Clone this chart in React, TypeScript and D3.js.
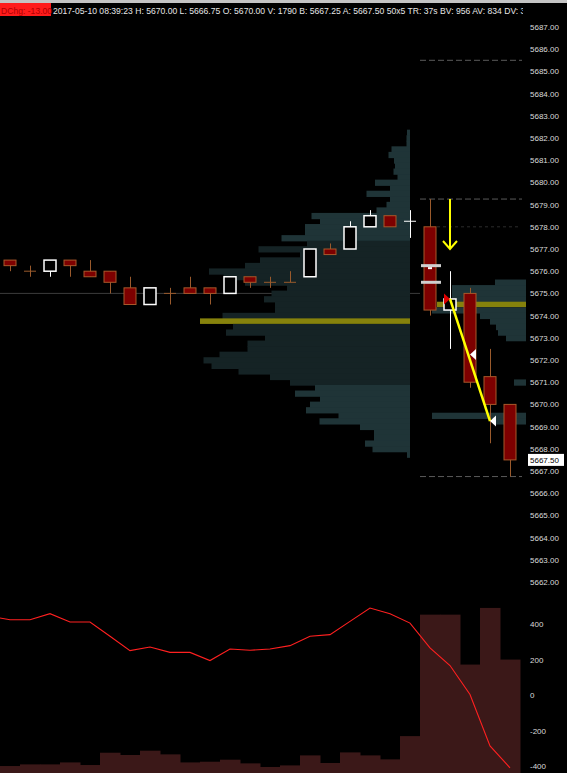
import React, { useEffect, useRef } from 'react';
import * as d3 from 'd3';

const W = 567;
const H = 773;

// candles, one per bar (index 0 = left-most)
const opens = [5676.5, 5676.0, 5676.0, 5676.5, 5676.0, 5676.0, 5675.25, 5674.5, 5675.0, 5675.25, 5675.25, 5675.0, 5675.75, 5675.5, 5675.5, 5675.75, 5677.0, 5677.0, 5678.0, 5678.5, 5678.25, 5678.0, 5674.25, 5675.0, 5671.25, 5670.0];
const highs = [5676.5, 5676.25, 5676.5, 5676.5, 5676.5, 5676.0, 5675.75, 5675.25, 5675.25, 5675.75, 5675.25, 5675.75, 5675.75, 5675.75, 5676.0, 5677.0, 5677.25, 5678.25, 5678.75, 5678.5, 5678.75, 5679.25, 5676.0, 5675.25, 5672.5, 5670.0];
const lows = [5676.0, 5675.75, 5675.75, 5675.75, 5675.75, 5675.0, 5674.5, 5674.5, 5674.5, 5675.0, 5674.5, 5675.0, 5675.25, 5675.25, 5675.5, 5675.75, 5676.75, 5677.0, 5678.0, 5678.0, 5677.5, 5674.0, 5672.5, 5670.75, 5668.25, 5666.75];
const closes = [5676.25, 5676.0, 5676.5, 5676.25, 5675.75, 5675.5, 5674.5, 5675.25, 5675.0, 5675.0, 5675.0, 5675.75, 5675.5, 5675.5, 5675.5, 5677.0, 5676.75, 5678.0, 5678.5, 5678.0, 5678.25, 5674.25, 5674.75, 5671.0, 5670.0, 5667.5];

// lower pane
const volumes = [110, 136, 136, 167, 126, 320, 284, 352, 294, 167, 178, 210, 152, 95, 120, 278, 158, 325, 278, 215, 582, 2499, 2499, 1711, 2605, 1790];
// delta line, first value belongs to the bar just left of the view
const deltaIndex = [-1, 0, 1, 2, 3, 4, 5, 6, 7, 8, 9, 10, 11, 12, 13, 14, 15, 16, 17, 18, 19, 20, 21, 22, 23, 24, 25];
const deltaValues = [444, 424, 424, 458, 411, 411, 331, 250, 270, 240, 240, 194, 259, 252, 259, 278, 331, 340, 415, 490, 458, 405, 265, 166, 3, -287, -410];
const deltaTicks = [400, 200, 0, -200, -400];

// volume profile (top price, one row per 0.25 tick)
const profileTop = 5682.25;
const profileVolume = [30, 35, 35, 185, 215, 160, 150, 165, 125, 350, 200, 435, 200, 235, 335, 985, 900, 1050, 1050, 1285, 1030, 1515, 1100, 1500, 1650, 2010, 1865, 1650, 1230, 1385, 1460, 1350, 1350, 1875, 2100, 1770, 1840, 1450, 1625, 1625, 1905, 2065, 1985, 1715, 1400, 1200, 950, 1150, 900, 1000, 1040, 715, 905, 500, 360, 360, 450, 375, 30];
const profilePoc = 5673.75;
const valueHigh = 5677.25;
const valueLow = 5671.0;

// depth bars at the right edge
const depthPrices = [5675.5, 5675.25, 5675.0, 5674.75, 5674.5, 5674.25, 5674.0, 5673.75, 5673.5, 5673.25, 5673.0, 5671.0, 5669.5, 5669.25];
const depthSizes = [310, 740, 740, 740, 890, 940, 460, 360, 300, 280, 200, 120, 940, 310];
const depthPoc = 5674.5;

const dashedLevels = [5685.5, 5679.25, 5666.75];
const orderMarks = [5676.25, 5675.5];
const lastPrice = 5667.5;

const header = '2017-05-10 08:39:23 H: 5670.00 L: 5666.75 O: 5670.00 V: 1790 B: 5667.25 A: 5667.50 50x5 TR: 37s BV: 956 AV: 834 DV: 32';

const App: React.FC = () => {
  const svgRef = useRef<SVGSVGElement>(null);

  useEffect(() => {
    if (!svgRef.current) return;
    document.body.style.margin = '0';
    document.body.style.background = '#000';
    const svg = d3.select(svgRef.current);
    svg.selectAll('*').remove();
    const font = "'Liberation Sans', Arial, sans-serif";

    const x = d3.scaleLinear().domain([0, 25]).range([10, 510]);
    const y = d3.scaleLinear().domain([5687, 5662]).range([27, 582]);
    const tick = Math.abs(y(5687.25) - y(5687));
    const profW = d3.scaleLinear().domain([0, 2100]).range([0, 210]);
    const volY = d3.scaleLinear().domain([0, 2730]).range([773, 600]);
    const deltaY = d3.scaleLinear().domain([-400, 400]).range([766, 624]);
    const plotRight = 526;

    const defs = svg.append('defs');
    defs.append('clipPath').attr('id', 'plot').append('rect')
      .attr('x', 0).attr('y', 17).attr('width', plotRight).attr('height', 583);
    defs.append('clipPath').attr('id', 'lower').append('rect')
      .attr('x', 0).attr('y', 600).attr('width', plotRight).attr('height', 173);
    defs.append('clipPath').attr('id', 'head').append('rect')
      .attr('x', 0).attr('y', 0).attr('width', 523).attr('height', 18);

    svg.append('rect').attr('width', W).attr('height', H).attr('fill', '#000');

    // header
    svg.append('rect').attr('width', W).attr('height', 3).attr('fill', '#c4c4c4');
    svg.append('rect').attr('x', 0).attr('y', 3).attr('width', 51).attr('height', 13).attr('fill', '#ff1c1c');
    svg.append('text').attr('x', 1).attr('y', 13.5).attr('font-family', font).attr('font-size', 8.6)
      .attr('fill', '#b00000').text('DChg: -13.00');
    svg.append('text').attr('x', 53).attr('y', 13.5).attr('font-family', font).attr('font-size', 8.6)
      .attr('fill', '#e6e6e6').attr('clip-path', 'url(#head)').text(header);

    const g = svg.append('g').attr('clip-path', 'url(#plot)');

    // reference line
    g.append('line').attr('x1', 0).attr('x2', x(20.5)).attr('y1', y(5675)).attr('y2', y(5675))
      .attr('stroke', '#3c3c3c').attr('stroke-width', 1);

    // volume profile
    const profRows = profileVolume.map((v, i) => ({ p: profileTop - i * 0.25, v }));
    g.append('g').selectAll('rect').data(profRows).join('rect')
      .attr('x', d => x(20) - profW(d.v))
      .attr('y', d => y(d.p) - tick / 2)
      .attr('width', d => profW(d.v))
      .attr('height', d => d.p === profilePoc ? tick : tick + 0.7)
      .attr('fill', d => d.p === profilePoc ? '#86820c' : (d.p <= valueHigh && d.p >= valueLow ? '#152325' : '#1f3437'));

    // depth bars
    const depthRows = depthPrices.map((p, i) => ({ p, v: depthSizes[i] }));
    g.append('g').selectAll('rect').data(depthRows).join('rect')
      .attr('x', d => plotRight - profW(d.v))
      .attr('y', d => y(d.p) - tick / 2)
      .attr('width', d => profW(d.v))
      .attr('height', d => d.p === depthPoc ? tick : tick + 0.7)
      .attr('fill', d => d.p === depthPoc ? '#86820c' : '#1f3437');

    // dashed levels
    g.append('g').selectAll('line').data(dashedLevels).join('line')
      .attr('x1', x(20.5)).attr('x2', 522)
      .attr('y1', d => y(d)).attr('y2', d => y(d))
      .attr('stroke', '#5a5a5a').attr('stroke-dasharray', '6,3');
    g.append('line').attr('x1', x(21.35)).attr('x2', 520).attr('y1', y(5678)).attr('y2', y(5678))
      .attr('stroke', '#2c2c2c').attr('stroke-dasharray', '3,3');

    // candles
    const candles = opens.map((o, i) => {
      const c = closes[i];
      const prev = i > 0 ? closes[i - 1] : o;
      const up = c > o || (c === o && c > prev);
      return { i, o, h: highs[i], l: lows[i], c, up };
    });
    const bw = 12;
    const wickDown = '#9a5a2c';
    const cg = g.append('g');
    cg.selectAll('line.wick').data(candles).join('line')
      .attr('class', 'wick')
      .attr('x1', d => x(d.i) + 0.5).attr('x2', d => x(d.i) + 0.5)
      .attr('y1', d => y(d.h)).attr('y2', d => y(d.l))
      .attr('stroke', d => d.up ? '#fff' : wickDown).attr('stroke-width', 1);
    cg.selectAll('rect.body').data(candles.filter(d => d.o !== d.c)).join('rect')
      .attr('class', 'body')
      .attr('x', d => x(d.i) - bw / 2)
      .attr('y', d => y(Math.max(d.o, d.c)))
      .attr('width', bw)
      .attr('height', d => Math.abs(y(d.o) - y(d.c)))
      .attr('fill', d => d.up ? '#000' : '#7d0000')
      .attr('stroke', d => d.up ? '#fff' : '#a8582a')
      .attr('stroke-width', d => d.up ? 1.5 : 1);
    cg.selectAll('line.doji').data(candles.filter(d => d.o === d.c)).join('line')
      .attr('class', 'doji')
      .attr('x1', d => x(d.i) - bw / 2).attr('x2', d => x(d.i) + bw / 2)
      .attr('y1', d => y(d.c)).attr('y2', d => y(d.c))
      .attr('stroke', d => d.up ? '#fff' : wickDown).attr('stroke-width', 1);

    // order markers on bar 21
    g.append('g').selectAll('rect').data(orderMarks).join('rect')
      .attr('x', x(21) - 9).attr('y', d => y(d) - 1.5).attr('width', 20).attr('height', 3)
      .attr('fill', '#cfcfcf');
    g.append('rect').attr('x', x(21) - 2).attr('y', y(orderMarks[0]) + 1.5).attr('width', 4).attr('height', 2)
      .attr('fill', '#fff');

    // yellow down arrow
    const ax = x(22);
    g.append('line').attr('x1', ax).attr('x2', ax).attr('y1', y(5679.25)).attr('y2', y(5677))
      .attr('stroke', '#ffff00').attr('stroke-width', 2);
    g.append('path')
      .attr('d', `M${ax - 7},${y(5677) - 8}L${ax},${y(5677)}L${ax + 7},${y(5677) - 8}`)
      .attr('fill', 'none').attr('stroke', '#ffff00').attr('stroke-width', 2);

    // trade line
    g.append('line')
      .attr('x1', x(22)).attr('y1', y(5674.75))
      .attr('x2', x(24)).attr('y2', y(5669.25))
      .attr('stroke', '#ffff00').attr('stroke-width', 2.5);

    const tri = (vx: number, vy: number, dir: number) =>
      `M${vx},${vy}L${vx - dir * 6},${vy - 5.5}L${vx - dir * 6},${vy + 5.5}Z`;
    g.append('path').attr('d', tri(x(22), y(5674.75), 1)).attr('fill', '#e00000');
    g.append('path').attr('d', tri(x(23), y(5672.25), -1)).attr('fill', '#fff');
    g.append('path').attr('d', tri(x(24), y(5669.25), -1)).attr('fill', '#fff');

    // lower pane
    const lg = svg.append('g').attr('clip-path', 'url(#lower)');
    lg.append('g').selectAll('rect').data(volumes).join('rect')
      .attr('x', (d, i) => x(i) - 10)
      .attr('y', d => volY(d))
      .attr('width', 20.5)
      .attr('height', d => volY(0) - volY(d))
      .attr('fill', '#3b1818');
    const line = d3.line<number>()
      .x((d, i) => x(deltaIndex[i]))
      .y(d => deltaY(d));
    lg.append('path').datum(deltaValues).attr('d', line)
      .attr('fill', 'none').attr('stroke', '#ff2020').attr('stroke-width', 1.1);

    // axes
    const styleAxis = (sel: d3.Selection<SVGGElement, unknown, null, undefined>) => {
      sel.select('.domain').remove();
      sel.selectAll('text').attr('font-family', font).attr('font-size', 8).attr('fill', '#dadada');
    };
    const pa = svg.append('g').attr('transform', 'translate(528,0)')
      .call(d3.axisRight(y).tickValues(d3.range(5662, 5688)).tickFormat(d3.format('.2f')).tickSize(0).tickPadding(2));
    styleAxis(pa);
    const da = svg.append('g').attr('transform', 'translate(528,0)')
      .call(d3.axisRight(deltaY).tickValues(deltaTicks).tickFormat(d => String(d)).tickSize(0).tickPadding(2));
    styleAxis(da);

    // last price tag
    svg.append('rect').attr('x', 528).attr('y', y(lastPrice) - 6).attr('width', 36).attr('height', 12).attr('fill', '#fff');
    svg.append('text').attr('x', 530).attr('y', y(lastPrice)).attr('dy', '0.35em')
      .attr('font-family', font).attr('font-size', 8).attr('fill', '#000').text(d3.format('.2f')(lastPrice));
  }, []);

  return (
    <svg ref={svgRef} width={W} height={H} style={{ display: 'block', position: 'absolute', left: 0, top: 0 }} />
  );
};

export default App;
